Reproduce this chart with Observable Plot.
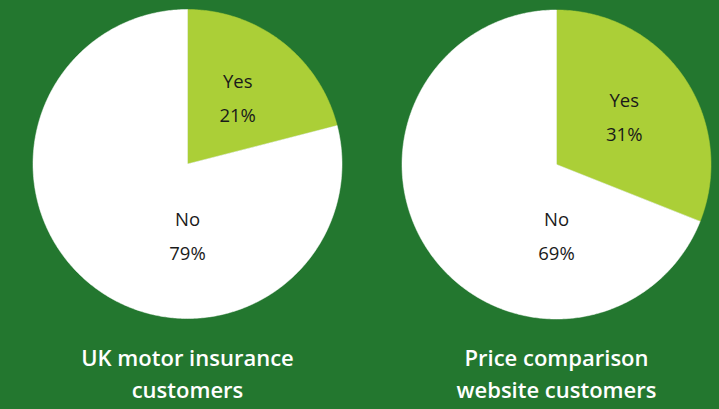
<!DOCTYPE html>
<html><head><meta charset="utf-8">
<script src="https://cdn.jsdelivr.net/npm/d3@7"></script>
<script src="https://cdn.jsdelivr.net/npm/@observablehq/plot@0.6"></script>
<style>
html,body{margin:0;padding:0;background:#23772f;}
</style></head><body>
<div id="chart"></div>
<script>
const charts = ["UK motor insurance customers", "Price comparison website customers"];
const titleLines = [["UK motor insurance", "customers"], ["Price comparison", "website customers"]];
const answers = ["Yes", "No"];
const values = [[21, 79], [31, 69]];
const colors = {Yes: "#abcf37", No: "#ffffff"};

const W = 719, H = 409;
const R = 154.5;
const centers = [[187, 163.5], [556, 164]];

const slices = [], labels = [], titles = [];
charts.forEach((c, i) => {
  const [cx, cy] = centers[i];
  const total = d3.sum(values[i]);
  let a0 = 0;
  answers.forEach((ans, j) => {
    const v = values[i][j];
    const a1 = a0 + v / total * 2 * Math.PI;
    const key = c + "|" + ans;
    slices.push({key, ans, x: cx, y: cy});
    const n = Math.max(2, Math.ceil((a1 - a0) / 0.01));
    for (let k = 0; k <= n; k++) {
      const a = a0 + (a1 - a0) * k / n;
      slices.push({key, ans, x: cx + R * Math.sin(a), y: cy - R * Math.cos(a)});
    }
    slices.push({key, ans, x: cx, y: cy});
    let la, lr;
    if (ans === "Yes") { la = (a0 + a1) / 2; lr = 0.53 * R; }
    else { la = Math.PI; lr = 0.47 * R; }
    const lx = cx + lr * Math.sin(la), ly = cy - lr * Math.cos(la);
    labels.push({x: lx, y: ly - 17, text: ans});
    labels.push({x: lx, y: ly + 17, text: v + "%"});
    a0 = a1;
  });
  titleLines[i].forEach((t, k) => titles.push({x: cx, y: 358 + k * 32, text: t}));
});

const plot = Plot.plot({
  width: W, height: H,
  margin: 0,
  style: {background: "#23772f"},
  x: {domain: [0, W], range: [0, W], axis: null},
  y: {domain: [0, H], range: [0, H], axis: null},
  color: {domain: answers, range: answers.map(a => colors[a])},
  marks: [
    Plot.line(slices, {x: "x", y: "y", z: "key", fill: "ans", stroke: "ans", strokeWidth: 0.5, curve: "linear"}),
    Plot.text(labels, {x: "x", y: "y", text: "text", fill: "#1a1a1a", fontSize: 18.5, fontFamily: "Open Sans", fontWeight: 400}),
    Plot.text(titles, {x: "x", y: "y", text: "text", fill: "#ffffff", fontSize: 22, fontFamily: "Open Sans", fontWeight: 600})
  ]
});
document.getElementById("chart").appendChild(plot);
</script>
</body></html>
